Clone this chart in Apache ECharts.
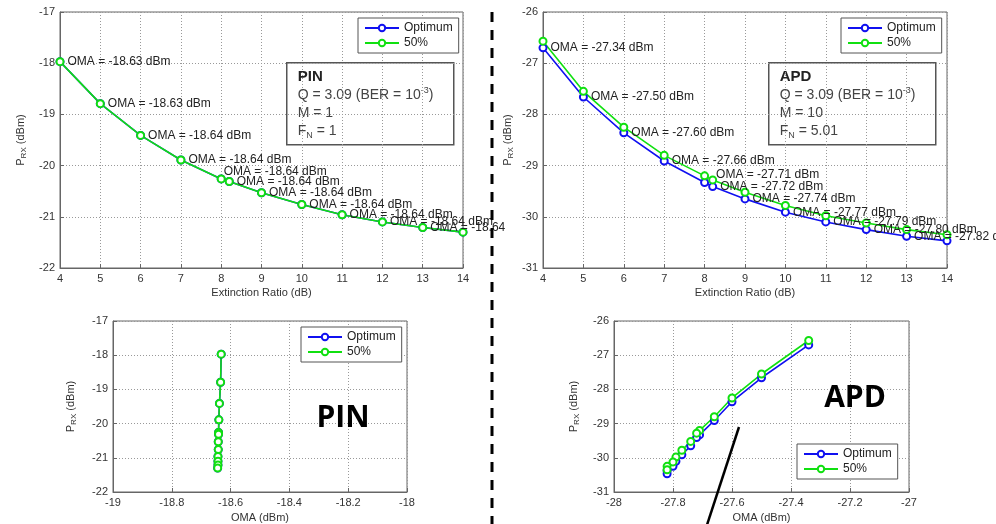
<!DOCTYPE html>
<html><head><meta charset="utf-8">
<script src="https://cdn.jsdelivr.net/npm/echarts@6/dist/echarts.min.js"></script>
<style>html,body{margin:0;padding:0;background:#fff}#c{width:996px;height:524px}</style>
</head><body><div id="c"></div>
<script>
// ---- data ----
const erValues = [4, 5, 6, 7, 8, 8.2, 9, 10, 11, 12, 13, 14];
const pinOptimum = [-17.97, -18.79, -19.41, -19.89, -20.26, -20.31, -20.53, -20.76, -20.96, -21.10, -21.21, -21.30];
const pin50 = [-17.97, -18.79, -19.41, -19.89, -20.26, -20.31, -20.53, -20.76, -20.96, -21.10, -21.21, -21.30];
const pinOMA = [-18.632, -18.634, -18.638, -18.640, -18.641, -18.641, -18.642, -18.642, -18.643, -18.643, -18.643, -18.644];
const apdOptimum = [-26.70, -27.66, -28.36, -28.91, -29.33, -29.41, -29.65, -29.91, -30.10, -30.25, -30.38, -30.47];
const apd50 = [-26.57, -27.55, -28.25, -28.80, -29.20, -29.28, -29.52, -29.78, -29.98, -30.12, -30.25, -30.35];
const apdOMA = [-27.34, -27.50, -27.60, -27.66, -27.71, -27.72, -27.74, -27.77, -27.79, -27.80, -27.82, -27.82];
const labelCount = 11;
const seriesNames = ['Optimum', '50%'];
const xTicksER = {min: 4, max: 14, interval: 1};
const yTicksPin = {min: -22, max: -17, interval: 1};
const yTicksApd = {min: -31, max: -26, interval: 1};
const xTicksOmaPin = {min: -19, max: -18, interval: 0.2};
const xTicksOmaApd = {min: -28, max: -27, interval: 0.2};

// ---- styles ----
const BLUE = '#1010f0', GREEN = '#10e010';
const FONT = 'Liberation Sans';
const chart = echarts.init(document.getElementById('c'));

function axisCommon(extra) {
  return Object.assign({
    type: 'value',
    axisLine: {show: true, onZero: false, lineStyle: {color: '#666'}},
    axisTick: {show: true, inside: true, length: 4, lineStyle: {color: '#666'}},
    axisLabel: {color: '#333', fontSize: 11, fontFamily: FONT, margin: 5,
      formatter: v => String(Math.round(v * 10) / 10)},
    splitLine: {show: true, lineStyle: {color: '#999', type: [1, 2], width: 1}},
    nameLocation: 'middle',
    nameTextStyle: {color: '#333', fontSize: 11, fontFamily: FONT}
  }, extra);
}
function yName(gap) {
  return {
    name: '{a|P}{b|RX}{a| (dBm)}', nameGap: gap, nameRotate: 90,
    nameTextStyle: {rich: {
      a: {fontSize: 11, fontFamily: FONT, color: '#333', lineHeight: 14},
      b: {fontSize: 8, fontFamily: FONT, color: '#333', lineHeight: 9, verticalAlign: 'bottom'}
    }}
  };
}
const grids = [
  {left: 60, top: 12, width: 403, height: 256},
  {left: 543, top: 12, width: 404, height: 256},
  {left: 113, top: 321, width: 294, height: 172},
  {left: 614, top: 321, width: 295, height: 172}
].map(g => Object.assign({show: true, borderColor: '#666', borderWidth: 1, backgroundColor: '#fff'}, g));

const xAxes = [
  axisCommon(Object.assign({gridIndex: 0, name: 'Extinction Ratio (dB)', nameGap: 19}, xTicksER)),
  axisCommon(Object.assign({gridIndex: 1, name: 'Extinction Ratio (dB)', nameGap: 19}, xTicksER)),
  axisCommon(Object.assign({gridIndex: 2, name: 'OMA (dBm)', nameGap: 20}, xTicksOmaPin)),
  axisCommon(Object.assign({gridIndex: 3, name: 'OMA (dBm)', nameGap: 20}, xTicksOmaApd))
];
const yAxes = [
  axisCommon(Object.assign({gridIndex: 0}, yTicksPin, yName(32))),
  axisCommon(Object.assign({gridIndex: 1}, yTicksApd, yName(28))),
  axisCommon(Object.assign({gridIndex: 2}, yTicksPin, yName(35))),
  axisCommon(Object.assign({gridIndex: 3}, yTicksApd, yName(33)))
];

function pairs(xs, ys) { return xs.map((x, i) => [x, ys[i]]); }
function lineSeries(name, color, idx, data, extra) {
  return Object.assign({
    name: name, type: 'line', xAxisIndex: idx, yAxisIndex: idx,
    data: data, symbol: 'emptyCircle', symbolSize: 7, showAllSymbol: true,
    lineStyle: {color: color, width: 1.6},
    itemStyle: {color: color, borderColor: color, borderWidth: 1.4},
    emphasis: {disabled: true}, animation: false
  }, extra || {});
}
function labelled(xs, ys, oma, offset8, special) {
  return xs.map((x, i) => {
    const item = {value: [x, ys[i]]};
    if (i >= labelCount) item.label = {show: false};
    if (i === 4) item.label = {offset: offset8};
    if (special && special[i]) item.label = special[i];
    return item;
  });
}
function labelCfg(oma) {
  return {show: true, position: 'right', distance: 3, color: '#222', fontSize: 12, fontFamily: FONT,
    formatter: p => 'OMA = ' + oma[p.dataIndex].toFixed(2) + ' dBm'};
}

const series = [
  lineSeries(seriesNames[0], BLUE, 0, labelled(erValues, pinOptimum, pinOMA, [-5, -7],
    {10: {width: 82, overflow: 'truncate', ellipsis: ''}}), {label: labelCfg(pinOMA)}),
  lineSeries(seriesNames[1], GREEN, 0, pairs(erValues, pin50)),
  lineSeries(seriesNames[0], BLUE, 1, labelled(erValues, apdOptimum, apdOMA, [4, -8]), {label: labelCfg(apdOMA)}),
  lineSeries(seriesNames[1], GREEN, 1, pairs(erValues, apd50)),
  lineSeries(seriesNames[0], BLUE, 2, pairs(pinOMA, pinOptimum)),
  lineSeries(seriesNames[1], GREEN, 2, pairs(pinOMA, pin50)),
  lineSeries(seriesNames[0], BLUE, 3, pairs(apdOMA, apdOptimum)),
  lineSeries(seriesNames[1], GREEN, 3, pairs(apdOMA, apd50))
];

function legendAt(left, top) {
  return {
    orient: 'vertical', left: left, top: top, data: seriesNames,
    itemWidth: 34, itemHeight: 8, itemGap: 3, padding: [4, 6, 4, 6],
    borderColor: '#555', borderWidth: 1, backgroundColor: '#fff',
    textStyle: {color: '#222', fontSize: 12, fontFamily: FONT}, selectedMode: false
  };
}
const legends = [legendAt(358, 18), legendAt(841, 18), legendAt(301, 327), legendAt(797, 444)];

function infoBox(x, y, title, m, fn) {
  return {
    type: 'group', left: x, top: y, z: 100,
    children: [
      {type: 'rect', shape: {x: 0, y: 0, width: 167, height: 82},
        style: {fill: '#fff', stroke: '#555', lineWidth: 1.5}},
      {type: 'text', x: 11, y: 14, style: {text: title, fill: '#222',
        font: 'bold 15px "Liberation Sans", Arial, sans-serif', verticalAlign: 'middle'}},
      {type: 'text', x: 11, y: 23, style: {
        text: '{n|Q = 3.09 (BER = 10}{sup|-3}{n|)}\n{n|M = ' + m + '}\n{n|F}{sub|N}{n| = ' + fn + '}',
        fill: '#444', fontSize: 14, fontFamily: FONT,
        rich: {
          n: {fontSize: 14, fontFamily: FONT, lineHeight: 18, fill: '#444'},
          sup: {fontSize: 9, fontFamily: FONT, lineHeight: 10, verticalAlign: 'top', fill: '#444'},
          sub: {fontSize: 9, fontFamily: FONT, lineHeight: 10, verticalAlign: 'bottom', fill: '#444'}
        }
      }}
    ]
  };
}

chart.setOption({
  animation: false,
  grid: grids, xAxis: xAxes, yAxis: yAxes, series: series, legend: legends,
  graphic: [
    infoBox(286, 62, 'PIN', '1', '1'),
    infoBox(768, 62, 'APD', '10', '5.01'),
    {type: 'line', z: 100, shape: {x1: 492, y1: 12, x2: 492, y2: 524},
      style: {stroke: '#000', lineWidth: 3, lineDash: [10, 8]}},
    {type: 'line', z: 100, shape: {x1: 739, y1: 427, x2: 706, y2: 528},
      style: {stroke: '#000', lineWidth: 2.5}},
    {type: 'text', z: 100, x: 343, y: 418, style: {text: 'PIN',
      font: 'bold 30px "Open Sans", "Liberation Sans", sans-serif', fill: '#000', align: 'center', verticalAlign: 'middle'}},
    {type: 'text', z: 100, x: 855, y: 398, style: {text: 'APD',
      font: 'bold 30px "Open Sans", "Liberation Sans", sans-serif', fill: '#000', align: 'center', verticalAlign: 'middle'}}
  ]
});
</script></body></html>
